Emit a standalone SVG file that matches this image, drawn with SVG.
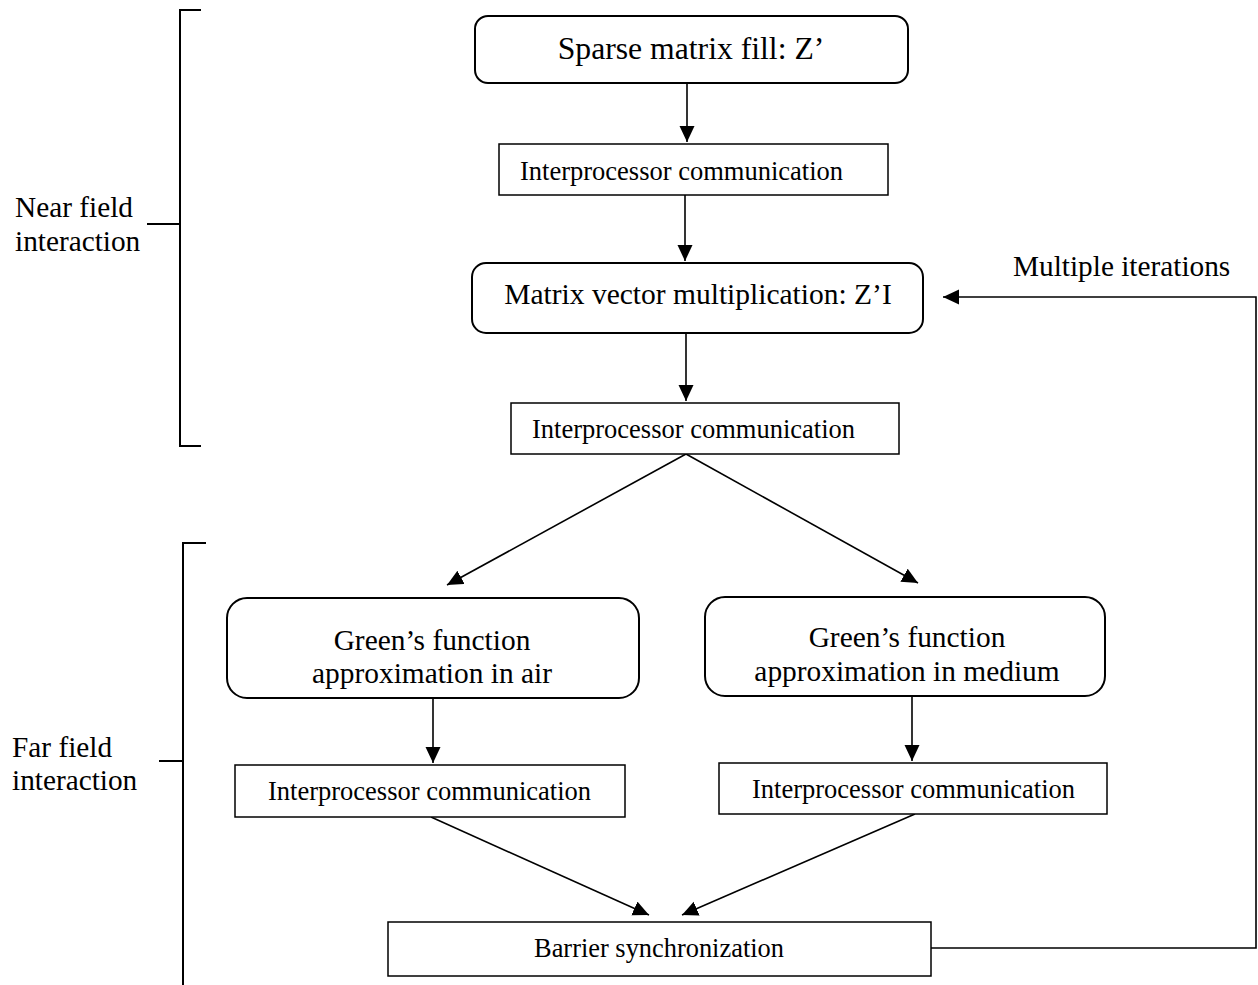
<svg xmlns="http://www.w3.org/2000/svg" width="1258" height="985" viewBox="0 0 1258 985">
<style>
.rb{fill:#fff;stroke:#000;stroke-width:2}
.sb{fill:#fff;stroke:#000;stroke-width:1.5}
.t{font-family:"Liberation Serif","Times New Roman",serif;fill:#000}
.c{fill:none;stroke:#000;stroke-width:1.6}
.br{fill:none;stroke:#000;stroke-width:2}
</style>
<defs>
<marker id="ah" markerUnits="userSpaceOnUse" markerWidth="17" markerHeight="16" refX="16" refY="7.5" orient="auto">
<path d="M0,0 L16,7.5 L0,15 z" fill="#000"/>
</marker>
</defs>
<rect width="1258" height="985" fill="#fff"/>
<g id="brackets">
<path class="br" d="M201,10 H180 V446 H201 M147,224 H180"/>
<path class="br" d="M206,543 H183 V985 M159,761 H183"/>
<text class="t" x="15" y="217" font-size="29.3">Near field</text>
<text class="t" x="15" y="251" font-size="29.3">interaction</text>
<text class="t" x="12" y="757" font-size="29.3">Far field</text>
<text class="t" x="12" y="790" font-size="29.3">interaction</text>
</g>
<g id="connectors">
<line class="c" x1="687" y1="83" x2="687" y2="142" marker-end="url(#ah)"/>
<line class="c" x1="685" y1="195" x2="685" y2="261" marker-end="url(#ah)"/>
<line class="c" x1="686" y1="333" x2="686" y2="401" marker-end="url(#ah)"/>
<line class="c" x1="686" y1="454" x2="447" y2="585" marker-end="url(#ah)"/>
<line class="c" x1="686" y1="454" x2="918" y2="583" marker-end="url(#ah)"/>
<line class="c" x1="433" y1="698" x2="433" y2="763" marker-end="url(#ah)"/>
<line class="c" x1="912" y1="696" x2="912" y2="761" marker-end="url(#ah)"/>
<line class="c" x1="431" y1="817" x2="649" y2="915" marker-end="url(#ah)"/>
<line class="c" x1="915" y1="814" x2="682" y2="915" marker-end="url(#ah)"/>
<polyline class="c" points="931,948 1256,948 1256,297 943,297" marker-end="url(#ah)"/>
<text class="t" x="1013" y="276" font-size="29.3">Multiple iterations</text>
</g>
<g id="sparse">
<rect class="rb" x="475" y="16" width="433" height="67" rx="13"/>
<text class="t" x="691" y="59" font-size="31.7" text-anchor="middle">Sparse matrix fill: Z’</text>
</g>
<g id="ipc1">
<rect class="sb" x="499" y="144" width="389" height="51"/>
<text class="t" x="520" y="180" font-size="26.5">Interprocessor communication</text>
</g>
<g id="matvec">
<rect class="rb" x="472" y="263" width="451" height="70" rx="14"/>
<text class="t" x="698" y="304" font-size="29.5" text-anchor="middle">Matrix vector multiplication: Z’I</text>
</g>
<g id="ipc2">
<rect class="sb" x="511" y="403" width="388" height="51"/>
<text class="t" x="532" y="438" font-size="26.5">Interprocessor communication</text>
</g>
<g id="green-air">
<rect class="rb" x="227" y="598" width="412" height="100" rx="20"/>
<text class="t" x="432" y="650" font-size="29.4" text-anchor="middle">Green’s function</text>
<text class="t" x="432" y="683" font-size="29.4" text-anchor="middle">approximation in air</text>
</g>
<g id="green-medium">
<rect class="rb" x="705" y="597" width="400" height="99" rx="20"/>
<text class="t" x="907" y="647" font-size="29.4" text-anchor="middle">Green’s function</text>
<text class="t" x="907" y="681" font-size="29.4" text-anchor="middle">approximation in medium</text>
</g>
<g id="ipc3">
<rect class="sb" x="235" y="765" width="390" height="52"/>
<text class="t" x="268" y="800" font-size="26.5">Interprocessor communication</text>
</g>
<g id="ipc4">
<rect class="sb" x="719" y="763" width="388" height="51"/>
<text class="t" x="752" y="798" font-size="26.5">Interprocessor communication</text>
</g>
<g id="barrier">
<rect class="sb" x="388" y="922" width="543" height="54"/>
<text class="t" x="659" y="957" font-size="26.4" text-anchor="middle">Barrier synchronization</text>
</g>
</svg>
